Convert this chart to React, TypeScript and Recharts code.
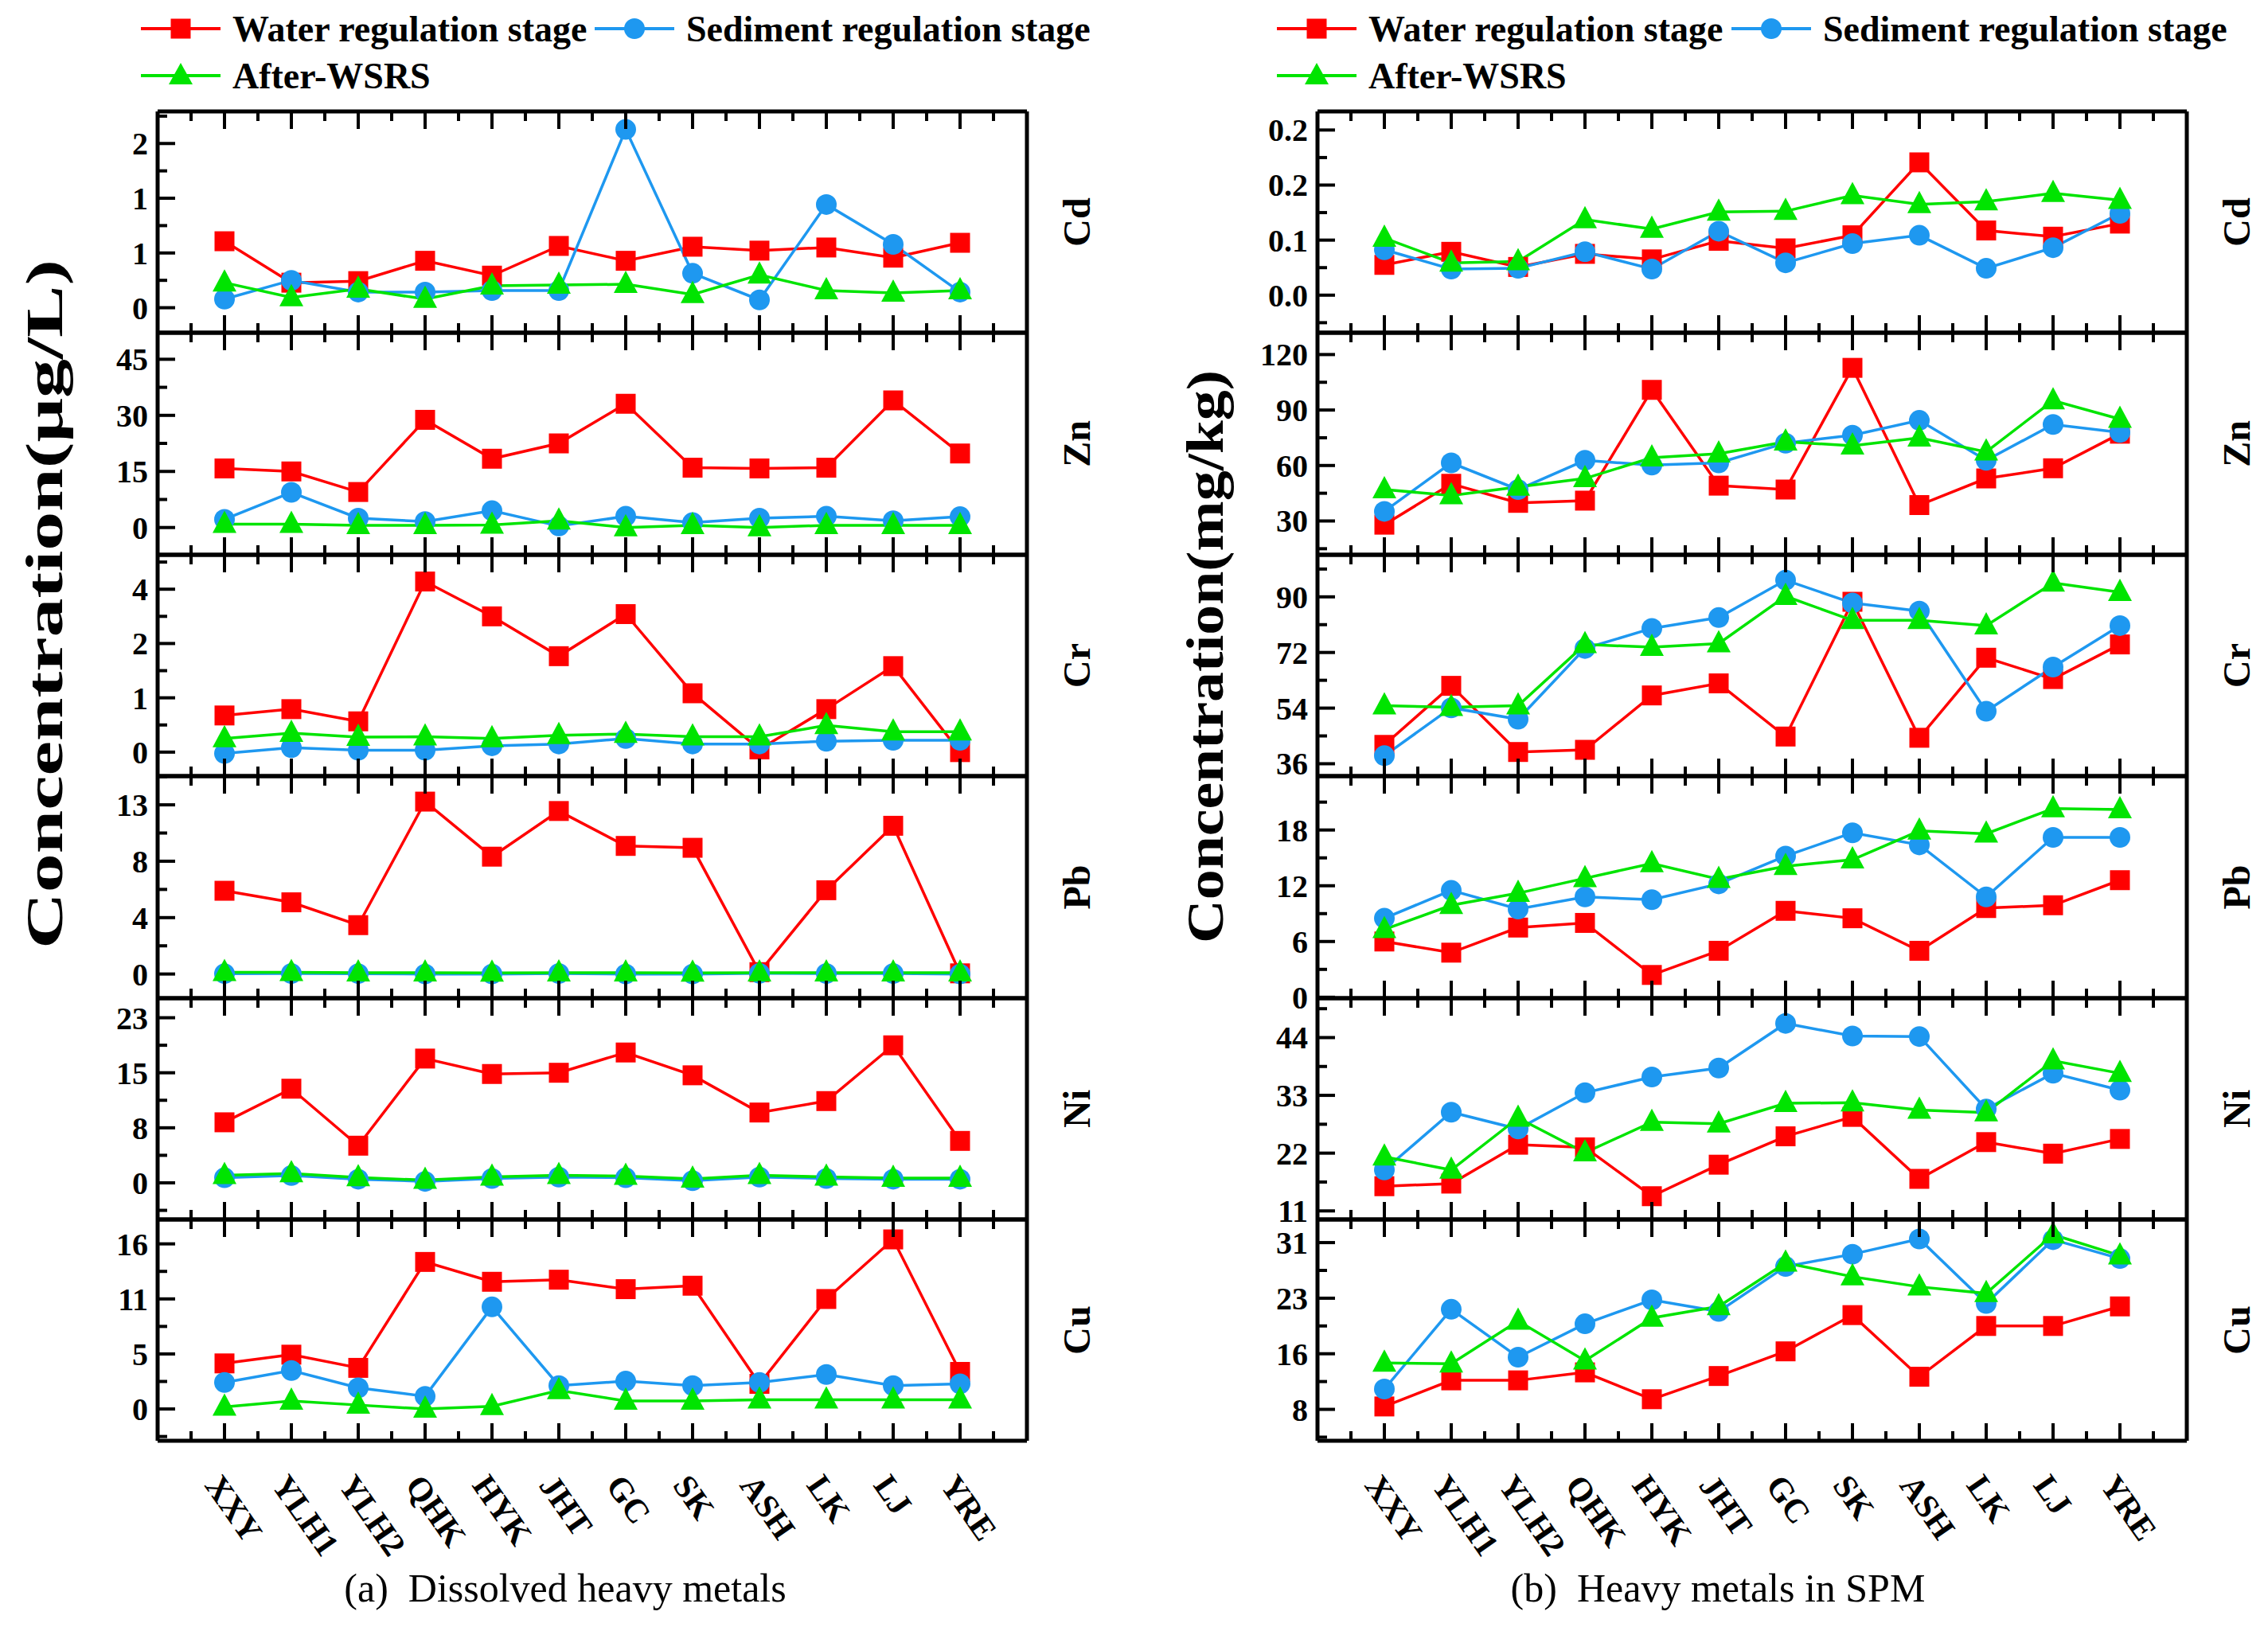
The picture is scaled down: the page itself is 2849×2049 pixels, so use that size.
import React from "react";
import { LineChart, Line, XAxis, YAxis } from "recharts";

const sites = ["XXY", "YLH1", "YLH2", "QHK", "HYK", "JHT", "GC", "SK", "ASH", "LK", "LJ", "YRE"];
const seriesNames = ["Water regulation stage", "Sediment regulation stage", "After-WSRS"];

// (a) Dissolved heavy metals, ug/L
const dCdWater = [0.85, 0.32, 0.34, 0.6, 0.41, 0.79, 0.6, 0.78, 0.73, 0.77, 0.64, 0.83];
const dCdSediment = [0.11, 0.35, 0.2, 0.2, 0.22, 0.22, 2.28, 0.44, 0.1, 1.32, 0.81, 0.2];
const dCdAfter = [0.32, 0.13, 0.24, 0.11, 0.28, 0.29, 0.3, 0.17, 0.42, 0.22, 0.19, 0.22];
const dCdTicks = [0, 0.7, 1.4, 2.1];
const dCdTickLabels = ["0", "1", "1", "2"];

const dZnWater = [15.8, 15.0, 9.5, 28.8, 18.4, 22.5, 33.1, 16.0, 15.8, 16.0, 34.0, 19.8];
const dZnSediment = [2.2, 9.4, 2.5, 1.6, 4.5, 0.4, 3.0, 1.3, 2.5, 3.0, 1.8, 2.9];
const dZnAfter = [0.9, 0.9, 0.6, 0.6, 0.7, 1.8, 0.0, 0.6, 0.0, 0.6, 0.6, 0.6];
const dZnTicks = [0, 15, 30, 45];
const dZnTickLabels = ["0", "15", "30", "45"];

const dCrWater = [0.81, 0.95, 0.68, 3.77, 3.0, 2.12, 3.05, 1.3, 0.06, 0.95, 1.9, 0.0];
const dCrSediment = [-0.03, 0.1, 0.04, 0.04, 0.14, 0.18, 0.3, 0.18, 0.18, 0.24, 0.26, 0.26];
const dCrAfter = [0.3, 0.42, 0.33, 0.34, 0.3, 0.37, 0.4, 0.34, 0.34, 0.59, 0.45, 0.45];
const dCrTicks = [0, 1.2, 2.4, 3.6];
const dCrTickLabels = ["0", "1", "2", "4"];

const dPbWater = [6.2, 5.34, 3.64, 12.84, 8.74, 12.14, 9.54, 9.4, 0.14, 6.24, 11.04, 0.05];
const dPbSediment = [0.03, 0.04, 0.03, 0.0, 0.0, 0.04, 0.0, 0.0, 0.05, 0.04, 0.04, 0.0];
const dPbAfter = [0.12, 0.12, 0.1, 0.1, 0.08, 0.1, 0.1, 0.08, 0.1, 0.1, 0.1, 0.1];
const dPbTicks = [0, 4.2, 8.4, 12.6];
const dPbTickLabels = ["0", "4", "8", "13"];

const dNiWater = [8.36, 13.0, 5.13, 17.16, 15.03, 15.2, 18.0, 14.85, 9.71, 11.29, 18.99, 5.79];
const dNiSediment = [0.7, 1.0, 0.5, 0.2, 0.6, 0.8, 0.7, 0.3, 0.8, 0.6, 0.5, 0.5];
const dNiAfter = [1.03, 1.28, 0.73, 0.37, 0.81, 1.03, 0.92, 0.55, 1.03, 0.81, 0.66, 0.66];
const dNiTicks = [0, 7.6, 15.2, 22.8];
const dNiTickLabels = ["0", "8", "15", "23"];

const dCuWater = [4.39, 5.23, 3.96, 14.16, 12.25, 12.45, 11.54, 11.87, 2.42, 10.59, 16.33, 3.57];
const dCuSediment = [2.55, 3.7, 2.04, 1.22, 9.83, 2.25, 2.68, 2.25, 2.55, 3.32, 2.25, 2.42];
const dCuAfter = [0.2, 0.77, 0.38, 0.0, 0.26, 1.79, 0.77, 0.77, 0.89, 0.89, 0.89, 0.89];
const dCuTicks = [0, 5.3, 10.6, 15.9];
const dCuTickLabels = ["0", "5", "11", "16"];

// (b) Heavy metals in SPM, mg/kg
const sCdWater = [0.044, 0.063, 0.041, 0.06, 0.052, 0.079, 0.068, 0.087, 0.193, 0.094, 0.085, 0.104];
const sCdSediment = [0.066, 0.038, 0.039, 0.063, 0.038, 0.093, 0.047, 0.075, 0.087, 0.039, 0.069, 0.119];
const sCdAfter = [0.083, 0.047, 0.049, 0.11, 0.096, 0.121, 0.122, 0.145, 0.132, 0.136, 0.148, 0.138];
const sCdTicks = [0, 0.08, 0.16, 0.24];
const sCdTickLabels = ["0.0", "0.1", "0.2", "0.2"];

const sZnWater = [28.0, 50.1, 39.8, 41.0, 100.9, 49.1, 47.0, 112.8, 38.6, 53.0, 58.5, 77.2];
const sZnSediment = [35.2, 61.4, 47.0, 62.8, 60.2, 61.4, 72.1, 76.4, 84.4, 62.8, 82.2, 77.9];
const sZnAfter = [47.0, 43.8, 48.4, 53.0, 64.2, 66.4, 72.8, 70.7, 75.0, 67.4, 95.1, 85.1];
const sZnTicks = [30, 60, 90, 120];
const sZnTickLabels = ["30", "60", "90", "120"];

const sCrWater = [42.1, 61.2, 39.8, 40.5, 58.1, 62.0, 44.8, 88.4, 44.4, 70.3, 63.4, 74.6];
const sCrSediment = [38.6, 54.1, 50.4, 73.3, 79.8, 83.3, 95.4, 88.0, 85.4, 53.0, 67.3, 80.7];
const sCrAfter = [54.8, 54.3, 54.8, 74.6, 73.7, 74.9, 90.2, 82.4, 82.4, 80.7, 94.5, 91.5];
const sCrTicks = [36, 54, 72, 90];
const sCrTickLabels = ["36", "54", "72", "90"];

const sPbWater = [6.0, 4.8, 7.5, 8.0, 2.4, 5.0, 9.3, 8.5, 5.0, 9.6, 9.9, 12.6];
const sPbSediment = [8.5, 11.5, 9.5, 10.8, 10.5, 12.2, 15.2, 17.7, 16.4, 10.8, 17.2, 17.2];
const sPbAfter = [7.3, 9.9, 11.2, 12.8, 14.4, 12.7, 14.1, 14.8, 17.9, 17.6, 20.3, 20.2];
const sPbTicks = [0, 6, 12, 18];
const sPbTickLabels = ["0", "6", "12", "18"];

const sNiWater = [15.7, 16.2, 23.6, 23.1, 13.8, 19.8, 25.2, 28.9, 17.1, 24.1, 21.9, 24.7];
const sNiSediment = [18.8, 29.8, 26.6, 33.5, 36.5, 38.2, 46.7, 44.3, 44.2, 30.4, 37.2, 34.0];
const sNiAfter = [21.3, 18.8, 28.7, 22.1, 27.9, 27.6, 31.5, 31.6, 30.2, 29.7, 39.6, 37.2];
const sNiTicks = [11, 22, 33, 44];
const sNiTickLabels = ["11", "22", "33", "44"];

const sCuWater = [8.4, 12.0, 12.0, 13.1, 9.4, 12.6, 16.0, 21.0, 12.5, 19.5, 19.5, 22.2];
const sCuSediment = [10.8, 21.8, 15.2, 19.8, 23.1, 21.5, 27.7, 29.4, 31.5, 22.6, 31.4, 28.8];
const sCuAfter = [14.4, 14.3, 20.2, 14.7, 20.6, 22.2, 28.2, 26.3, 24.9, 24.0, 32.1, 29.2];
const sCuTicks = [8, 15.67, 23.33, 31];
const sCuTickLabels = ["8", "16", "23", "31"];

const RED = "#ff0000";
const BLUE = "#1e98f0";
const GREEN = "#00e400";
const FONT = '"Liberation Serif", "Times New Roman", serif';

type Panel = {
  metal: string;
  water: number[];
  sediment: number[];
  after: number[];
  domain: [number, number];
  ticks: number[];
  labels: string[];
};

const dissolvedPanels: Panel[] = [
  { metal: "Cd", water: dCdWater, sediment: dCdSediment, after: dCdAfter, domain: [-0.32, 2.51], ticks: dCdTicks, labels: dCdTickLabels },
  { metal: "Zn", water: dZnWater, sediment: dZnSediment, after: dZnAfter, domain: [-7.3, 52.1], ticks: dZnTicks, labels: dZnTickLabels },
  { metal: "Cr", water: dCrWater, sediment: dCrSediment, after: dCrAfter, domain: [-0.53, 4.36], ticks: dCrTicks, labels: dCrTickLabels },
  { metal: "Pb", water: dPbWater, sediment: dPbSediment, after: dPbAfter, domain: [-1.8, 14.74], ticks: dPbTicks, labels: dPbTickLabels },
  { metal: "Ni", water: dNiWater, sediment: dNiSediment, after: dNiAfter, domain: [-5.06, 25.5], ticks: dNiTicks, labels: dNiTickLabels },
  { metal: "Cu", water: dCuWater, sediment: dCuSediment, after: dCuAfter, domain: [-3.06, 18.25], ticks: dCuTicks, labels: dCuTickLabels },
];

const spmPanels: Panel[] = [
  { metal: "Cd", water: sCdWater, sediment: sCdSediment, after: sCdAfter, domain: [-0.0546, 0.267], ticks: sCdTicks, labels: sCdTickLabels },
  { metal: "Zn", water: sZnWater, sediment: sZnSediment, after: sZnAfter, domain: [11.7, 131.8], ticks: sZnTicks, labels: sZnTickLabels },
  { metal: "Cr", water: sCrWater, sediment: sCrSediment, after: sCrAfter, domain: [32.0, 103.6], ticks: sCrTicks, labels: sCrTickLabels },
  { metal: "Pb", water: sPbWater, sediment: sPbSediment, after: sPbAfter, domain: [-0.1, 23.8], ticks: sPbTicks, labels: sPbTickLabels },
  { metal: "Ni", water: sNiWater, sediment: sNiSediment, after: sNiAfter, domain: [9.37, 51.5], ticks: sNiTicks, labels: sNiTickLabels },
  { metal: "Cu", water: sCuWater, sediment: sCuSediment, after: sCuAfter, domain: [3.67, 34.19], ticks: sCuTicks, labels: sCuTickLabels },
];

// layout of the plot boxes (page pixels)
const PLOT_TOP = 140;
const ROW_H = 278.4;
const PLOT_W = 1092;
const LEFT_X = 198;
const RIGHT_X = 1655;

const MAJOR = 22;
const MINOR = 12;
const TICK_W = 4;

const xTicks = [-0.5, 0, 0.5, 1, 1.5, 2, 2.5, 3, 3.5, 4, 4.5, 5, 5.5, 6, 6.5, 7, 7.5, 8, 8.5, 9, 9.5, 10, 10.5, 11, 11.5];

const squareDot = (p: any) => (
  <rect key={`sq-${p.index}`} x={p.cx - 12.5} y={p.cy - 12.5} width={25} height={25} fill={RED} />
);
const circleDot = (p: any) => <circle key={`ci-${p.index}`} cx={p.cx} cy={p.cy} r={13} fill={BLUE} />;
const triangleDot = (p: any) => (
  <polygon
    key={`tr-${p.index}`}
    points={`${p.cx},${p.cy - 17} ${p.cx - 15},${p.cy + 11} ${p.cx + 15},${p.cy + 11}`}
    fill={GREEN}
  />
);

function isMajor(ticks: number[], v: number) {
  return ticks.findIndex((t) => Math.abs(t - v) < 1e-6);
}

function Subplot({ panel, left, top, height, last }: { panel: Panel; left: number; top: number; height: number; last: boolean }) {
  const data = sites.map((s, i) => ({ i, site: s, w: panel.water[i], s: panel.sediment[i], a: panel.after[i] }));
  const step = panel.ticks[1] - panel.ticks[0];
  const minors = [panel.ticks[0] - step / 2, ...panel.ticks.map((t) => t + step / 2)].filter(
    (v) => v > panel.domain[0] && v < panel.domain[1]
  );
  const yTicks = [...panel.ticks, ...minors].sort((a, b) => a - b);

  // axes are 1px boxes so recharts draws them; margins absorb that pixel
  const ML = 199;
  const MR = 129;
  const MT = 29;
  const MB = last ? 199 : 29;
  const frame = { stroke: "#000", strokeWidth: 5 };

  const leftTick = (p: any) => {
    const k = isMajor(panel.ticks, p.payload.value);
    return (
      <g>
        <line x1={p.x} x2={p.x + (k >= 0 ? MAJOR : MINOR)} y1={p.y} y2={p.y} stroke="#000" strokeWidth={TICK_W} />
        {k >= 0 && (
          <text x={p.x - 12} y={p.y} dy="0.35em" textAnchor="end" style={{ fontFamily: FONT }} fontWeight="bold" fontSize={40} fill="#000">
            {panel.labels[k]}
          </text>
        )}
      </g>
    );
  };
  const rightTick = (p: any) => {
    const k = isMajor(panel.ticks, p.payload.value);
    return <line x1={p.x} x2={p.x - (k >= 0 ? MAJOR : MINOR)} y1={p.y} y2={p.y} stroke="#000" strokeWidth={TICK_W} />;
  };
  const topTick = (p: any) => {
    const major = Number.isInteger(p.payload.value);
    return <line x1={p.x} x2={p.x} y1={p.y} y2={p.y + (major ? MAJOR : MINOR)} stroke="#000" strokeWidth={TICK_W} />;
  };
  const bottomTick = (p: any) => {
    const v = p.payload.value;
    const major = Number.isInteger(v);
    const tx = p.x - 26;
    const ty = p.y + 56;
    return (
      <g>
        <line x1={p.x} x2={p.x} y1={p.y} y2={p.y - (major ? MAJOR : MINOR)} stroke="#000" strokeWidth={TICK_W} />
        {last && major && v >= 0 && v < sites.length && (
          <text
            x={tx}
            y={ty}
            transform={`rotate(55 ${tx} ${ty})`}
            textAnchor="start"
            style={{ fontFamily: FONT }}
            fontWeight="bold"
            fontSize={42}
            fill="#000"
          >
            {sites[v]}
          </text>
        )}
      </g>
    );
  };
  const metalLabel = (lp: any) => {
    const vb = lp.viewBox || {};
    const cx = (vb.x || 0) + 62;
    const cy = (vb.y || 0) + (vb.height || 0) / 2;
    return (
      <text
        x={cx}
        y={cy}
        dy="0.35em"
        transform={`rotate(-90 ${cx} ${cy})`}
        textAnchor="middle"
        style={{ fontFamily: FONT }}
        fontWeight="bold"
        fontSize={48}
        fill="#000"
      >
        {panel.metal}
      </text>
    );
  };

  return (
    <div style={{ position: "absolute", left: left - ML - 1, top: top - MT - 1 }}>
      <LineChart
        width={PLOT_W + ML + MR + 2}
        height={height + MT + MB + 2}
        data={data}
        margin={{ top: MT, right: MR, bottom: MB, left: ML }}
      >
        <XAxis
          xAxisId="b"
          type="number"
          dataKey="i"
          domain={[-1, 12]}
          ticks={xTicks}
          interval={0}
          height={1}
          tickSize={0}
          tickMargin={0}
          tickLine={false}
          axisLine={frame}
          tick={bottomTick}
        />
        <XAxis
          xAxisId="t"
          orientation="top"
          type="number"
          dataKey="i"
          domain={[-1, 12]}
          ticks={xTicks}
          interval={0}
          height={1}
          tickSize={0}
          tickMargin={0}
          tickLine={false}
          axisLine={frame}
          tick={topTick}
        />
        <YAxis
          yAxisId="l"
          type="number"
          domain={panel.domain}
          ticks={yTicks}
          interval={0}
          width={1}
          tickSize={0}
          tickMargin={0}
          tickLine={false}
          axisLine={frame}
          tick={leftTick}
        />
        <YAxis
          yAxisId="r"
          orientation="right"
          type="number"
          domain={panel.domain}
          ticks={yTicks}
          interval={0}
          width={1}
          tickSize={0}
          tickMargin={0}
          tickLine={false}
          axisLine={frame}
          tick={rightTick}
          label={{ content: metalLabel }}
        />
        <Line
          xAxisId="b"
          yAxisId="l"
          dataKey="w"
          name={seriesNames[0]}
          stroke={RED}
          strokeWidth={3.5}
          dot={squareDot}
          activeDot={false}
          isAnimationActive={false}
        />
        <Line
          xAxisId="b"
          yAxisId="l"
          dataKey="s"
          name={seriesNames[1]}
          stroke={BLUE}
          strokeWidth={3.5}
          dot={circleDot}
          activeDot={false}
          isAnimationActive={false}
        />
        <Line
          xAxisId="b"
          yAxisId="l"
          dataKey="a"
          name={seriesNames[2]}
          stroke={GREEN}
          strokeWidth={3.5}
          dot={triangleDot}
          activeDot={false}
          isAnimationActive={false}
        />
      </LineChart>
    </div>
  );
}

function LegendItem({ x, y, k }: { x: number; y: number; k: number }) {
  const color = [RED, BLUE, GREEN][k];
  const mx = x + 50;
  return (
    <g>
      <line x1={x} x2={x + 100} y1={y} y2={y} stroke={color} strokeWidth={4} />
      {k === 0 && <rect x={mx - 12.5} y={y - 12.5} width={25} height={25} fill={RED} />}
      {k === 1 && <circle cx={mx} cy={y} r={13} fill={BLUE} />}
      {k === 2 && <polygon points={`${mx},${y - 16} ${mx - 15},${y + 11} ${mx + 15},${y + 11}`} fill={GREEN} />}
      <text x={x + 115} y={y} dy="0.35em" style={{ fontFamily: FONT }} fontWeight="bold" fontSize={46} fill="#000">
        {seriesNames[k]}
      </text>
    </g>
  );
}

export default function App() {
  const rows = dissolvedPanels.map((_, k) => {
    const t = Math.round(PLOT_TOP + k * ROW_H);
    const b = Math.round(PLOT_TOP + (k + 1) * ROW_H);
    return { top: t, height: b - t };
  });
  return (
    <div style={{ position: "relative", width: 2849, height: 2049, background: "#fff", overflow: "hidden" }}>
      <style>{"body{margin:0}"}</style>
      <svg width={2849} height={2049} style={{ position: "absolute", left: 0, top: 0 }}>
        <LegendItem x={177} y={36} k={0} />
        <LegendItem x={747} y={36} k={1} />
        <LegendItem x={177} y={95} k={2} />
        <LegendItem x={1604} y={36} k={0} />
        <LegendItem x={2175} y={36} k={1} />
        <LegendItem x={1604} y={95} k={2} />
        <text
          x={55}
          y={759}
          dy="0.35em"
          transform="rotate(-90 55 759)"
          textAnchor="middle"
          style={{ fontFamily: FONT }}
          fontWeight="bold"
          fontSize={66}
          textLength={866}
          lengthAdjust="spacingAndGlyphs"
          fill="#000"
        >
          Concentration(μg/L)
        </text>
        <text
          x={1513}
          y={825}
          dy="0.35em"
          transform="rotate(-90 1513 825)"
          textAnchor="middle"
          style={{ fontFamily: FONT }}
          fontWeight="bold"
          fontSize={66}
          textLength={720}
          lengthAdjust="spacingAndGlyphs"
          fill="#000"
        >
          Concentration(mg/kg)
        </text>
        <text x={710} y={2012} textAnchor="middle" style={{ fontFamily: FONT, whiteSpace: "pre" }} fontSize={50} fill="#000">
          (a)  Dissolved heavy metals
        </text>
        <text x={2158} y={2012} textAnchor="middle" style={{ fontFamily: FONT, whiteSpace: "pre" }} fontSize={50} fill="#000">
          (b)  Heavy metals in SPM
        </text>
      </svg>
      {dissolvedPanels.map((p, k) => (
        <Subplot key={`d-${p.metal}`} panel={p} left={LEFT_X} top={rows[k].top} height={rows[k].height} last={k === 5} />
      ))}
      {spmPanels.map((p, k) => (
        <Subplot key={`s-${p.metal}`} panel={p} left={RIGHT_X} top={rows[k].top} height={rows[k].height} last={k === 5} />
      ))}
    </div>
  );
}
